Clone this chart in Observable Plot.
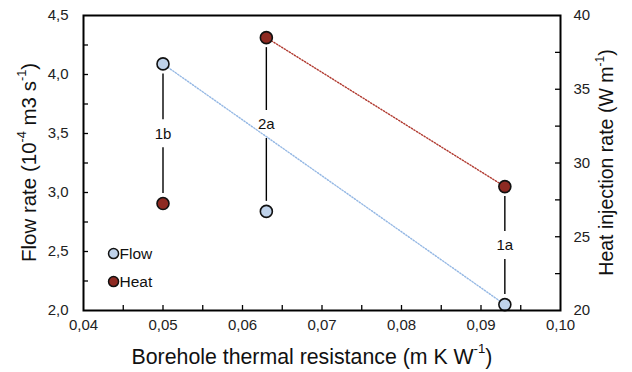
<!DOCTYPE html>
<html><head><meta charset="utf-8">
<script src="https://cdn.jsdelivr.net/npm/d3@7"></script>
<script src="https://cdn.jsdelivr.net/npm/@observablehq/plot@0.6"></script>
<style>
html,body{margin:0;padding:0;background:#fff;}
#chart svg{display:block;}
</style>
</head><body><div id="chart"></div>
<script>
// ---- data ----
const cases = ["1b", "2a", "1a"];
const resistance = [0.05, 0.063, 0.093];
const flow = [4.09, 2.84, 2.05];        // 10^-4 m3 s-1
const heat = [27.25, 38.5, 28.4];       // W m-1
const flowTrendCases = ["1b", "1a"];
const heatTrendCases = ["2a", "1a"];
const xTicks = [0.04, 0.05, 0.06, 0.07, 0.08, 0.09, 0.10];
const xMinorTicks = [0.045, 0.05, 0.055, 0.06, 0.065, 0.07, 0.075, 0.08, 0.085, 0.09, 0.095];
const flowTicks = [2.0, 2.5, 3.0, 3.5, 4.0, 4.5];
const flowMinorTicks = [2.25, 2.5, 2.75, 3.0, 3.25, 3.5, 3.75, 4.0, 4.25];
const heatTicks = [20, 25, 30, 35, 40];
const heatMinorTicks = [22.5, 25, 27.5, 30, 32.5, 35, 37.5];
const legendItems = ["Flow", "Heat"];

const xDomain = [0.04, 0.10];
const flowDomain = [2, 4.5];
const heatDomain = [20, 40];

// ---- layout ----
const W = 632, H = 372;
const mL = 83, mR = 72, mT = 15, mB = 62;
const innerW = W - mL - mR, innerH = H - mT - mB;
const tickLen = 5;
const TICKFS = 15;
const FONT = '"Liberation Sans", Arial, sans-serif';
const flowFill = "#bfd2ea", heatFill = "#8e2a22";
const flowLine = "#95b8e4", heatLine = "#b0392f";

const toFlow = h => flowDomain[0] + (h - heatDomain[0]) / (heatDomain[1] - heatDomain[0]) * (flowDomain[1] - flowDomain[0]);
const toHeat = f => heatDomain[0] + (f - flowDomain[0]) / (flowDomain[1] - flowDomain[0]) * (heatDomain[1] - heatDomain[0]);
const comma = (d, p) => d.toFixed(p).replace(".", ",");

const points = cases.map((c, i) => ({case: c, x: resistance[i], flow: flow[i], heatY: toFlow(heat[i])}));
const connectors = points.map(p => {
  const top = Math.max(p.flow, p.heatY), bot = Math.min(p.flow, p.heatY);
  return {case: p.case, x: p.x, top, bot, mid: (top + bot) / 2};
});
const flowTrend = points.filter(p => flowTrendCases.includes(p.case));
const heatTrend = points.filter(p => heatTrendCases.includes(p.case));

const dxTick = (xDomain[1] - xDomain[0]) * tickLen / innerW;
const dyTick = (flowDomain[1] - flowDomain[0]) * tickLen / innerH;

const legend = legendItems.map((name, i) => ({
  name,
  x: xDomain[0] + (xDomain[1] - xDomain[0]) * 0.063,
  y: flowDomain[0] + (flowDomain[1] - flowDomain[0]) * (0.193 - i * 0.095),
  fill: i === 0 ? flowFill : heatFill
}));

const plot = Plot.plot({
  width: W, height: H,
  marginLeft: mL, marginRight: mR, marginTop: mT, marginBottom: mB,
  style: {fontFamily: FONT, fontSize: TICKFS + "px", color: "#222", background: "#fff"},
  x: {domain: xDomain},
  y: {domain: flowDomain},
  marks: [
    // inward tick marks
    Plot.ruleY(flowMinorTicks, {y: d => d, x1: xDomain[0], x2: xDomain[0] + dxTick, stroke: "#000", strokeWidth: 1.3}),
    Plot.ruleY(heatMinorTicks.map(toFlow), {y: d => d, x1: xDomain[1] - dxTick, x2: xDomain[1], stroke: "#000", strokeWidth: 1.3}),
    Plot.ruleX(xMinorTicks, {x: d => d, y1: flowDomain[0], y2: flowDomain[0] + dyTick, stroke: "#000", strokeWidth: 1.3}),
    // axes labels
    Plot.axisY(flowTicks, {anchor: "left", tickSize: 0, tickPadding: 15, tickFormat: d => comma(d, 1), label: null, fill: "#222", fontSize: TICKFS}),
    Plot.axisY(heatTicks.map(toFlow), {anchor: "right", tickSize: 0, tickPadding: 13, tickFormat: d => String(Math.round(toHeat(d))), label: null, fill: "#222", fontSize: TICKFS}),
    Plot.axisX(xTicks, {anchor: "bottom", tickSize: 0, tickPadding: 9, tickFormat: d => comma(d, 2), label: null, fill: "#222", fontSize: TICKFS}),
    // trend lines (dotted)
    Plot.line(flowTrend, {x: "x", y: "flow", stroke: flowLine, strokeWidth: 1.4, strokeDasharray: "1.3,1.7"}),
    Plot.line(heatTrend, {x: "x", y: "heatY", stroke: heatLine, strokeWidth: 1.4, strokeDasharray: "1.3,1.7"}),
    // connectors with gaps for labels
    Plot.ruleX(connectors, {x: "x", y1: "top", y2: "mid", insetTop: 10, insetBottom: 14, stroke: "#000", strokeWidth: 1.4}),
    Plot.ruleX(connectors, {x: "x", y1: "mid", y2: "bot", insetTop: 14, insetBottom: 10, stroke: "#000", strokeWidth: 1.4}),
    Plot.text(connectors, {x: "x", y: "mid", text: "case", fontSize: 15, fill: "#111"}),
    // points
    Plot.dot(points, {x: "x", y: "flow", r: 6, fill: flowFill, stroke: "#111", strokeWidth: 1.6}),
    Plot.dot(points, {x: "x", y: "heatY", r: 6, fill: heatFill, stroke: "#111", strokeWidth: 1.6}),
    // legend
    Plot.dot(legend, {x: "x", y: "y", r: 5, fill: "fill", stroke: "#111", strokeWidth: 1.5}),
    Plot.text(legend, {x: "x", y: "y", text: "name", dx: 6, textAnchor: "start", fontSize: 15.5, fill: "#111"}),
    Plot.frame({stroke: "#000", strokeWidth: 2})
  ]
});

document.getElementById("chart").appendChild(plot);

const svg = d3.select(plot);
// enforce tick-label font size
svg.selectAll('g[aria-label$="tick label"]').attr("font-size", TICKFS)
  .selectAll("text").attr("font-size", TICKFS).style("font-size", TICKFS + "px");

// axis titles with real superscripts
function title(x, y, rot, size, parts) {
  const t = svg.append("text")
    .attr("transform", `translate(${x},${y}) rotate(${rot})`)
    .attr("text-anchor", "middle")
    .attr("dominant-baseline", "middle")
    .attr("font-family", FONT)
    .attr("font-size", size)
    .attr("fill", "#111");
  let prevSup = false;
  parts.forEach(([s, sup]) => {
    const ts = t.append("tspan").text(s);
    if (sup) ts.attr("font-size", size * 0.62).attr("dy", -size * 0.38);
    else if (prevSup) ts.attr("dy", size * 0.38);
    prevSup = sup;
  });
  return t;
}
title(31, mT + innerH / 2, -90, 20.5, [["Flow rate (10", false], ["-4", true], [" m3 s", false], ["-1", true], [")", false]]);
title(608, mT + innerH / 2, -90, 19.5, [["Heat injection rate (W m", false], ["-1", true], [")", false]]);
title(312, 358, 0, 21.3, [["Borehole thermal resistance (m K W", false], ["-1", true], [")", false]]);
</script>
</body></html>
